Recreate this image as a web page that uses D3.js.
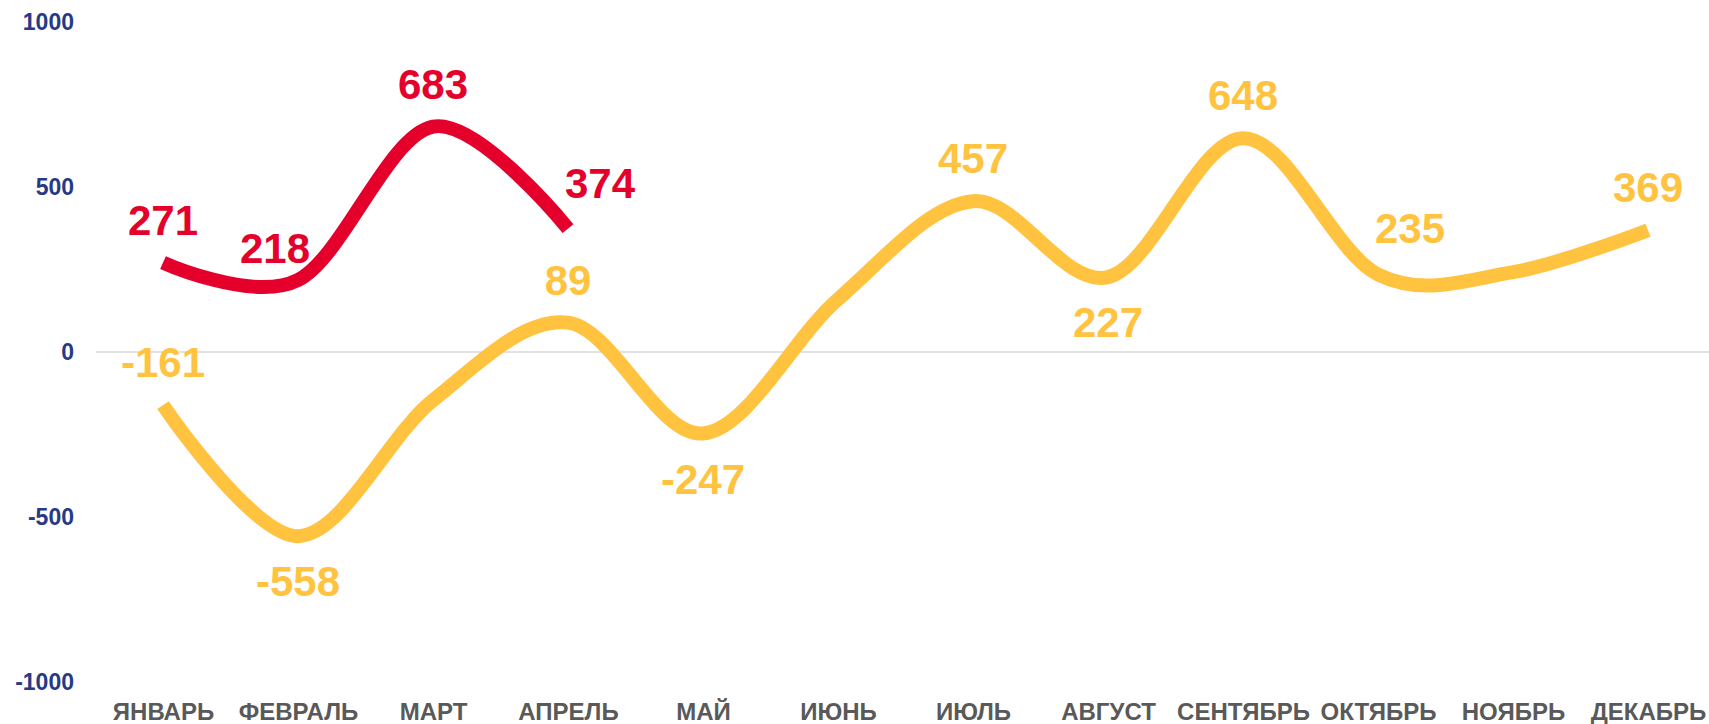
<!DOCTYPE html>
<html>
<head>
<meta charset="utf-8">
<script src="https://cdn.jsdelivr.net/npm/d3@7"></script>
<style>
  body { margin: 0; background: #fff; }
  svg { display: block; font-family: "Liberation Sans", Arial, sans-serif; }
</style>
</head>
<body>
<svg id="chart"></svg>
<script>
// months on the x axis
var months = ["ЯНВАРЬ", "ФЕВРАЛЬ", "МАРТ", "АПРЕЛЬ", "МАЙ", "ИЮНЬ", "ИЮЛЬ",
    "АВГУСТ", "СЕНТЯБРЬ", "ОКТЯБРЬ", "НОЯБРЬ", "ДЕКАБРЬ"];

// red series (first four months only)
var redValues = [271, 218, 683, 374];
// yellow series, all year
var yellowValues = [-161, -558, -146, 89, -247, 160, 457, 227, 648, 235, 242, 369];

// where each value label sits; "none" = no label shown
var redLabelPos = ["above", "aboveLeft", "above", "aboveRight"];
var yellowLabelPos = ["above", "below", "none", "above", "below", "none",
    "above", "below", "above", "aboveRight", "none", "above"];

var yTicks = [-1000, -500, 0, 500, 1000];

var width = 1709, height = 724;
var redColor = "#E4002B", yellowColor = "#FFC340";

var svg = d3.select("#chart")
    .attr("width", width)
    .attr("height", height);

var xScale = d3.scalePoint()
    .domain(months)
    .range([163, 1648]);

var yScale = d3.scaleLinear()
    .domain([-1000, 1000])
    .range([682, 22]);

// zero line only
svg.append("line")
    .attr("x1", 96)
    .attr("x2", width)
    .attr("y1", yScale(0))
    .attr("y2", yScale(0))
    .attr("stroke", "#D9D9D9")
    .attr("stroke-width", 1.3);

// y axis labels
var yAxis = svg.append("g")
    .attr("transform", "translate(74,0)")
    .call(d3.axisLeft(yScale).tickValues(yTicks).tickSize(0).tickPadding(0)
        .tickFormat(function(d) { return String(d); }));
yAxis.select("path").remove();
yAxis.selectAll("text")
    .style("font-family", "Liberation Sans, Arial, sans-serif")
    .style("font-weight", "bold")
    .style("font-size", "23px")
    .style("fill", "#263A87");

// x axis labels
var xAxis = svg.append("g")
    .attr("transform", "translate(0,700)")
    .call(d3.axisBottom(xScale).tickSize(0).tickPadding(0));
xAxis.select("path").remove();
xAxis.selectAll("text")
    .attr("dy", null)
    .attr("y", 20)
    .style("font-family", "Liberation Sans, Arial, sans-serif")
    .style("font-weight", "bold")
    .style("font-size", "24px")
    .style("fill", "#595959");

var line = d3.line()
    .x(function(d) { return xScale(d.month); })
    .y(function(d) { return yScale(d.value); })
    .curve(d3.curveCardinal.tension(0));

function toPoints(values, labelPos) {
    return values.map(function(v, i) {
        return { month: months[i], value: v, pos: labelPos[i] };
    });
}

var labelOffsets = {
    above: [0, -28],
    below: [0, 60],
    aboveLeft: [-23, -17],
    aboveRight: [32, -31]
};

function drawSeries(points, color) {
    svg.append("path")
        .datum(points)
        .attr("d", line)
        .attr("fill", "none")
        .attr("stroke", color)
        .attr("stroke-width", 14)
        .attr("stroke-linecap", "butt")
        .attr("stroke-linejoin", "round");

    svg.selectAll(null)
        .data(points.filter(function(d) { return d.pos !== "none"; }))
        .enter()
        .append("text")
        .attr("x", function(d) { return xScale(d.month) + labelOffsets[d.pos][0]; })
        .attr("y", function(d) { return yScale(d.value) + labelOffsets[d.pos][1]; })
        .attr("text-anchor", "middle")
        .style("font-weight", "bold")
        .style("font-size", "42px")
        .style("fill", color)
        .text(function(d) { return d.value; });
}

drawSeries(toPoints(yellowValues, yellowLabelPos), yellowColor);
drawSeries(toPoints(redValues, redLabelPos), redColor);
</script>
</body>
</html>
